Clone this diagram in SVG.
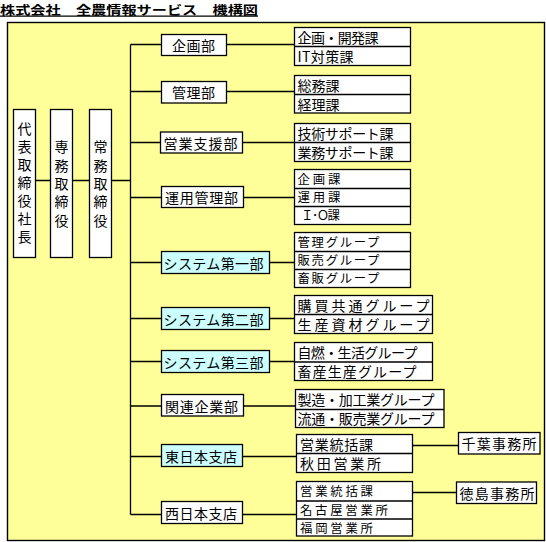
<svg xmlns="http://www.w3.org/2000/svg" width="546" height="542" viewBox="0 0 546 542">
<style>
.bg{fill:#ffff99;stroke:#000;stroke-width:1.4}
.b{fill:#fff;stroke:#000;stroke-width:1.3}
.c{fill:#ccffff}
.d{stroke:#000;stroke-width:1.3;fill:none}
.t{font-family:"Noto Sans CJK JP","Noto Sans CJK SC",sans-serif;font-size:14px;fill:#000;dominant-baseline:central}
.s{font-size:12.4px}
.v{font-family:"Noto Sans CJK JP","Noto Sans CJK SC",sans-serif;font-size:14px;fill:#000;writing-mode:vertical-rl}
.title{font-family:"Noto Sans CJK JP","Noto Sans CJK SC",sans-serif;font-size:12.5px;font-weight:bold;fill:#000;text-decoration:underline}
</style>
<rect width="546" height="542" fill="#fff"/>
<text class="title" x="0" y="14.5" textLength="258" lengthAdjust="spacingAndGlyphs">株式会社　全農情報サービス　機構図</text>
<rect class="bg" x="7.5" y="22.5" width="537" height="518"/>

<g id="connectors">
<path class="d" d="M36 180.5H50M72.5 180.5H89.5M111.5 180.5H130.5M130.5 44.5V514.5"/>
<path class="d" d="M130.5 44.5H161.5M130.5 91.5H161.5M130.5 142.5H160.5M130.5 197.5H161.5M130.5 262.5H161.5M130.5 318.5H161.5M130.5 361.5H161.5M130.5 406H161.5M130.5 456.5H161.5M130.5 514.5H161.5"/>
<path class="d" d="M226.5 44.5H294.5M226.5 91.5H294.5M242.5 142.5H294.5M243.5 197.5H294.5M269.5 262.5H294.5M269.5 318.5H294.5M269.5 361.5H294.5M243.5 406H295.5M242.5 456.5H296.5M242.5 514.5H296.5"/>
<path class="d" d="M412.5 445.5H458.5M412.5 492.5H456.5"/>
</g>

<g id="president">
<rect class="b" x="13.5" y="109.5" width="22" height="148"/>
<text class="v" x="24.5" y="122" letter-spacing="4">代表取締役社長</text>
</g>
<g id="senmu">
<rect class="b" x="50.5" y="109.5" width="22" height="148"/>
<text class="v" x="61.5" y="140" letter-spacing="4.3">専務取締役</text>
</g>
<g id="jomu">
<rect class="b" x="89.5" y="109.5" width="22" height="148"/>
<text class="v" x="100.5" y="140" letter-spacing="4.3">常務取締役</text>
</g>

<g id="kikaku">
<rect class="b" x="161.5" y="34.5" width="65" height="21"/>
<text class="t" x="172" y="44.5" textLength="43" lengthAdjust="spacing">企画部</text>
</g>
<g id="kanri">
<rect class="b" x="161.5" y="81.5" width="65" height="21.5"/>
<text class="t" x="172" y="92" textLength="43" lengthAdjust="spacing">管理部</text>
</g>
<g id="eigyoshien">
<rect class="b" x="160.5" y="132" width="82" height="21"/>
<text class="t" x="163.5" y="142.5" textLength="74" lengthAdjust="spacing">営業支援部</text>
</g>
<g id="unyokanri">
<rect class="b" x="161.5" y="186.5" width="82" height="21"/>
<text class="t" x="165" y="197" textLength="73" lengthAdjust="spacing">運用管理部</text>
</g>
<g id="system1">
<rect class="b c" x="161.5" y="251.5" width="108" height="22"/>
<text class="t" x="163.5" y="262.5" textLength="100" lengthAdjust="spacing">システム第一部</text>
</g>
<g id="system2">
<rect class="b c" x="161.5" y="307.5" width="108" height="22"/>
<text class="t" x="163.5" y="318.5" textLength="100" lengthAdjust="spacing">システム第二部</text>
</g>
<g id="system3">
<rect class="b c" x="161.5" y="350.5" width="108" height="22"/>
<text class="t" x="163.5" y="361.5" textLength="100" lengthAdjust="spacing">システム第三部</text>
</g>
<g id="kanren">
<rect class="b" x="161.5" y="394.5" width="82" height="21.5"/>
<text class="t" x="165" y="405.5" textLength="73" lengthAdjust="spacing">関連企業部</text>
</g>
<g id="higashinihon">
<rect class="b c" x="161.5" y="444.5" width="81" height="22"/>
<text class="t" x="165" y="455.5" textLength="72" lengthAdjust="spacing">東日本支店</text>
</g>
<g id="nishinihon">
<rect class="b" x="161.5" y="501.5" width="81" height="22"/>
<text class="t" x="165" y="512.5" textLength="72" lengthAdjust="spacing">西日本支店</text>
</g>

<g id="sec-kikaku">
<rect class="b" x="294.5" y="27.5" width="116" height="38"/>
<path class="d" d="M294.5 46.5H410.5"/>
<text class="t" x="297.5" y="36.5" textLength="81" lengthAdjust="spacing">企画・開発課</text>
<text class="t" x="297.5" y="55.5" textLength="56" lengthAdjust="spacing">IT対策課</text>
</g>
<g id="sec-kanri">
<rect class="b" x="294.5" y="75.5" width="116" height="37.5"/>
<path class="d" d="M294.5 94.5H410.5"/>
<text class="t" x="297.5" y="84.5" textLength="42" lengthAdjust="spacing">総務課</text>
<text class="t" x="297.5" y="103.5" textLength="42" lengthAdjust="spacing">経理課</text>
</g>
<g id="sec-eigyoshien">
<rect class="b" x="294.5" y="123.5" width="116" height="38"/>
<path class="d" d="M294.5 142.5H410.5"/>
<text class="t" x="297.5" y="132.5" textLength="96" lengthAdjust="spacing">技術サポート課</text>
<text class="t" x="297.5" y="151.5" textLength="96" lengthAdjust="spacing">業務サポート課</text>
</g>
<g id="sec-unyokanri">
<rect class="b" x="294.5" y="169.5" width="116" height="55"/>
<path class="d" d="M294.5 188.5H410.5M294.5 206.5H410.5"/>
<text class="t s" x="297.5" y="178.8" textLength="43" lengthAdjust="spacing">企画課</text>
<text class="t s" x="297.5" y="197.3" textLength="43" lengthAdjust="spacing">運用課</text>
<text class="t s" x="301" y="215.3" textLength="39" lengthAdjust="spacing">Ｉ･Ｏ課</text>
</g>
<g id="sec-system1">
<rect class="b" x="294.5" y="232.5" width="116" height="55"/>
<path class="d" d="M294.5 251.5H410.5M294.5 269.5H410.5"/>
<text class="t s" x="297.5" y="241.8" textLength="82" lengthAdjust="spacing">管理グループ</text>
<text class="t s" x="297.5" y="260.3" textLength="82" lengthAdjust="spacing">販売グループ</text>
<text class="t s" x="297.5" y="278.3" textLength="82" lengthAdjust="spacing">畜販グループ</text>
</g>
<g id="sec-system2">
<rect class="b" x="294.5" y="295.5" width="138" height="38"/>
<path class="d" d="M294.5 314.5H432.5"/>
<text class="t" x="297.5" y="304.5" textLength="132" lengthAdjust="spacing">購買共通グループ</text>
<text class="t" x="297.5" y="323.5" textLength="132" lengthAdjust="spacing">生産資材グループ</text>
</g>
<g id="sec-system3">
<rect class="b" x="294.5" y="342.5" width="138" height="38"/>
<path class="d" d="M294.5 362H432.5"/>
<text class="t" x="297.5" y="351.5" textLength="120" lengthAdjust="spacing">自燃・生活グループ</text>
<text class="t" x="297.5" y="370.5" textLength="119" lengthAdjust="spacing">畜産生産グループ</text>
</g>
<g id="sec-kanren">
<rect class="b" x="295.5" y="389.5" width="148.5" height="38"/>
<path class="d" d="M295.5 409.5H444"/>
<text class="t" x="297.5" y="399" textLength="137" lengthAdjust="spacing">製造・加工業グループ</text>
<text class="t" x="297.5" y="418" textLength="137" lengthAdjust="spacing">流通・販売業グループ</text>
</g>
<g id="sec-higashinihon">
<rect class="b" x="296.5" y="434.5" width="116" height="38"/>
<path class="d" d="M296.5 453.5H412.5"/>
<text class="t" x="300" y="444" textLength="73" lengthAdjust="spacing">営業統括課</text>
<text class="t" x="300" y="463" textLength="81" lengthAdjust="spacing">秋田営業所</text>
</g>
<g id="sec-nishinihon">
<rect class="b" x="296.5" y="481.5" width="116" height="54.5"/>
<path class="d" d="M296.5 501H412.5M296.5 519H412.5"/>
<text class="t s" x="300" y="491.3" textLength="73" lengthAdjust="spacing">営業統括課</text>
<text class="t s" x="300" y="510" textLength="88" lengthAdjust="spacing">名古屋営業所</text>
<text class="t s" x="300" y="527.8" textLength="73" lengthAdjust="spacing">福岡営業所</text>
</g>
<g id="chiba">
<rect class="b" x="458.5" y="432.5" width="81.5" height="21.5"/>
<text class="t" x="461.5" y="443" textLength="75" lengthAdjust="spacing">千葉事務所</text>
</g>
<g id="tokushima">
<rect class="b" x="456.5" y="482" width="80" height="21.5"/>
<text class="t" x="459.5" y="492.5" textLength="75" lengthAdjust="spacing">徳島事務所</text>
</g>
</svg>
